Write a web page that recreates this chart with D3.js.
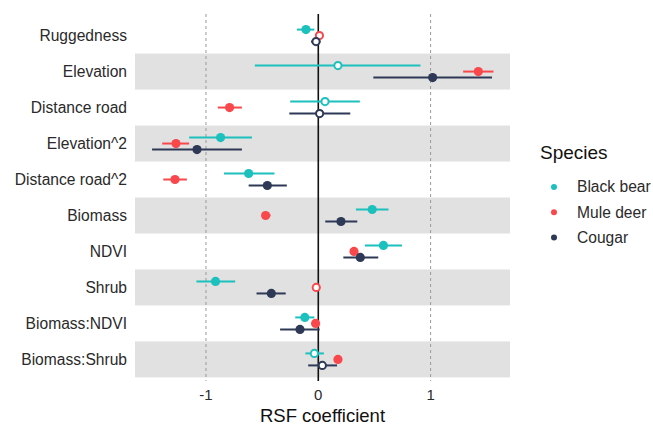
<!DOCTYPE html>
<html>
<head>
<meta charset="utf-8">
<script src="https://cdn.jsdelivr.net/npm/d3@7"></script>
<style>
  body { margin: 0; background: #fff; }
  svg { font-family: "Liberation Sans", Arial, sans-serif; }
</style>
</head>
<body>
<svg id="chart" width="653" height="425"></svg>
<script>
// covariates, top to bottom
const terms = ["Ruggedness", "Elevation", "Distance road", "Elevation^2", "Distance road^2",
    "Biomass", "NDVI", "Shrub", "Biomass:NDVI", "Biomass:Shrub"];
const species = ["Black bear", "Mule deer", "Cougar"];
const colors = ["#1cc0bd", "#f9484b", "#2e3957"];

// estimate, lower, upper per term (same order as terms)
const bearEst = [-0.11, 0.175, 0.06, -0.87, -0.62, 0.48, 0.58, -0.915, -0.12, -0.035];
const bearLo  = [-0.19, -0.565, -0.25, -1.15, -0.84, 0.335, 0.415, -1.085, -0.205, -0.115];
const bearHi  = [-0.035, 0.91, 0.37, -0.59, -0.39, 0.625, 0.745, -0.74, -0.035, 0.05];
const bearSig = [true, false, false, true, true, true, true, true, true, false];

const deerEst = [0.01, 1.425, -0.79, -1.267, -1.276, -0.469, 0.318, -0.018, -0.024, 0.175];
const deerLo  = [0.0, 1.29, -0.895, -1.39, -1.38, -0.50, 0.30, -0.045, -0.04, 0.16];
const deerHi  = [0.02, 1.56, -0.68, -1.15, -1.17, -0.425, 0.335, 0.01, -0.01, 0.19];
const deerSig = [false, true, true, true, true, true, true, false, true, true];

const cougEst = [-0.02, 1.018, 0.012, -1.08, -0.454, 0.202, 0.374, -0.418, -0.163, 0.036];
const cougLo  = [-0.065, 0.49, -0.258, -1.48, -0.62, 0.062, 0.223, -0.55, -0.34, -0.09];
const cougHi  = [0.02, 1.547, 0.285, -0.68, -0.28, 0.347, 0.534, -0.29, 0.012, 0.167];
const cougSig = [false, true, false, true, true, true, true, true, true, false];

const xTicks = [-1, 0, 1];

const series = [
    { est: bearEst, lo: bearLo, hi: bearHi, sig: bearSig },
    { est: deerEst, lo: deerLo, hi: deerHi, sig: deerSig },
    { est: cougEst, lo: cougLo, hi: cougHi, sig: cougSig },
];
const rows = [];
series.forEach((s, si) => {
    terms.forEach((t, i) => {
        rows.push({ term: t, sp: species[si], col: colors[si], est: s.est[i], lo: s.lo[i], hi: s.hi[i], sig: s.sig[i] });
    });
});

const svg = d3.select("#chart");
const panel = { left: 135, right: 510, top: 14, bottom: 381 };

const x = d3.scaleLinear().domain([-1.632, 1.707]).range([panel.left, panel.right]);
const y = d3.scaleBand().domain(terms).range([panel.top, panel.bottom]).paddingInner(0).paddingOuter(0.1);
const dodge = d3.scalePoint().domain(species).range([-6, 6]);

// alternating grey bands
svg.append("g").selectAll("rect")
    .data(terms.filter((d, i) => i % 2 === 1))
    .join("rect")
    .attr("x", panel.left).attr("width", panel.right - panel.left)
    .attr("y", d => y(d)).attr("height", y.bandwidth())
    .attr("fill", "#e1e1e1");

// reference lines
svg.append("g").selectAll("line")
    .data([-1, 1])
    .join("line")
    .attr("x1", d => x(d)).attr("x2", d => x(d))
    .attr("y1", panel.top).attr("y2", panel.bottom)
    .attr("stroke", "#9a9a9a").attr("stroke-width", 1)
    .attr("stroke-dasharray", "3,3");
svg.append("line")
    .attr("x1", x(0)).attr("x2", x(0))
    .attr("y1", panel.top).attr("y2", panel.bottom)
    .attr("stroke", "#111").attr("stroke-width", 1.6);

const cy = d => y(d.term) + y.bandwidth() / 2 + dodge(d.sp);

// confidence intervals
svg.append("g").selectAll("line")
    .data(rows)
    .join("line")
    .attr("x1", d => x(d.lo)).attr("x2", d => x(d.hi))
    .attr("y1", cy).attr("y2", cy)
    .attr("stroke", d => d.col).attr("stroke-width", 2);

// point estimates (open = not significant)
svg.append("g").selectAll("circle")
    .data(rows)
    .join("circle")
    .attr("cx", d => x(d.est)).attr("cy", cy)
    .attr("r", d => d.sig ? 4.6 : 3.6)
    .attr("fill", d => d.sig ? d.col : "#fff")
    .attr("stroke", d => d.col)
    .attr("stroke-width", d => d.sig ? 0 : 2);

// y axis labels
svg.append("g").selectAll("text")
    .data(terms)
    .join("text")
    .attr("x", 127)
    .attr("y", d => y(d) + y.bandwidth() / 2)
    .attr("dy", "0.35em")
    .attr("text-anchor", "end")
    .attr("font-size", 15.6)
    .attr("fill", "#2a2a2a")
    .text(d => d);

// x axis tick labels
svg.append("g").selectAll("text")
    .data(xTicks)
    .join("text")
    .attr("x", d => x(d))
    .attr("y", 395)
    .attr("dy", "0.35em")
    .attr("text-anchor", "middle")
    .attr("font-size", 15)
    .attr("fill", "#2a2a2a")
    .text(d => d);

svg.append("text")
    .attr("x", (panel.left + panel.right) / 2)
    .attr("y", 416)
    .attr("dy", "0.35em")
    .attr("text-anchor", "middle")
    .attr("font-size", 18.5)
    .attr("fill", "#111")
    .text("RSF coefficient");

// legend
const legend = svg.append("g");
legend.append("text")
    .attr("x", 540).attr("y", 152)
    .attr("dy", "0.35em")
    .attr("font-size", 19)
    .attr("fill", "#111")
    .text("Species");
const items = legend.selectAll("g.item")
    .data(species)
    .join("g")
    .attr("class", "item")
    .attr("transform", (d, i) => `translate(0,${187 + i * 25.3})`);
items.append("circle")
    .attr("cx", 554).attr("cy", 0).attr("r", 3)
    .attr("fill", (d, i) => colors[i]);
items.append("text")
    .attr("x", 577).attr("y", 0)
    .attr("dy", "0.35em")
    .attr("font-size", 15.6)
    .attr("fill", "#2a2a2a")
    .text(d => d);
</script>
</body>
</html>
